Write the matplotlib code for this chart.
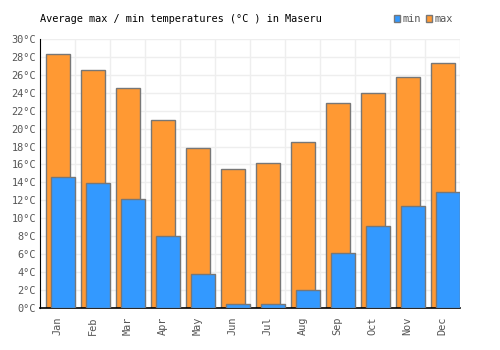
import numpy as np
import matplotlib
matplotlib.use("Agg")
import matplotlib.pyplot as plt
from matplotlib.patches import Patch

months = ['Jan', 'Feb', 'Mar', 'Apr', 'May', 'Jun', 'Jul', 'Aug', 'Sep', 'Oct', 'Nov', 'Dec']
t_max = [28.3, 26.5, 24.5, 21.0, 17.8, 15.5, 16.2, 18.5, 22.9, 24.0, 25.8, 27.3]
t_min = [14.6, 13.9, 12.2, 8.0, 3.8, 0.45, 0.4, 2.0, 6.1, 9.1, 11.4, 12.9]

plt.rcParams['font.family'] = 'DejaVu Sans Mono'

fig = plt.figure(figsize=(5, 3.5), dpi=100)
ax = fig.add_axes([0.08, 0.12, 0.84, 0.769])

x = np.arange(len(months))
w = 0.69
ax.bar(x + 0.17, t_max, width=w, align='edge', color='#ff9933', edgecolor='#777777', linewidth=1, zorder=2)
ax.bar(x + 0.31, t_min, width=w, align='edge', color='#3399ff', edgecolor='#777777', linewidth=1, zorder=3)

ax.set_xlim(0, 12)
ax.set_ylim(0, 30)
ax.set_yticks(range(0, 31, 2))
ax.set_yticklabels([f'{v}°C' for v in range(0, 31, 2)])
ax.set_xticks(x + 0.5)
ax.set_xticklabels(months, rotation=90)
ax.grid(False)
for v in range(1, 13):
    ax.axvline(v, color='#eeeeee', linewidth=1, zorder=0)
for v in range(2, 31, 2):
    ax.axhline(v, color='#eeeeee', linewidth=1, zorder=0)

ax.tick_params(axis='both', which='both', length=0, labelsize=7.4, colors='#555555', pad=3)
ax.tick_params(axis='x', pad=6)
for s in ['top', 'right']:
    ax.spines[s].set_visible(False)
ax.spines['left'].set_color('black')
ax.spines['bottom'].set_color('black')
ax.spines['bottom'].set_linewidth(1.2)

fig.text(0.08, 0.945, 'Average max / min temperatures (°C ) in Maseru', fontsize=7.4, color='black', va='center')

handles = [Patch(facecolor='#3399ff', edgecolor='#777777', label='min'),
           Patch(facecolor='#ff9933', edgecolor='#777777', label='max')]
leg = fig.legend(handles=handles, loc='center right', bbox_to_anchor=(0.905, 0.945), ncol=2, frameon=False,
                 fontsize=7.4, handlelength=0.6, handleheight=0.6, handletextpad=0.2, columnspacing=0.5,
                 borderpad=0, borderaxespad=0)
for t in leg.get_texts():
    t.set_color('#555555')

fig.savefig('out.png', dpi=100)
